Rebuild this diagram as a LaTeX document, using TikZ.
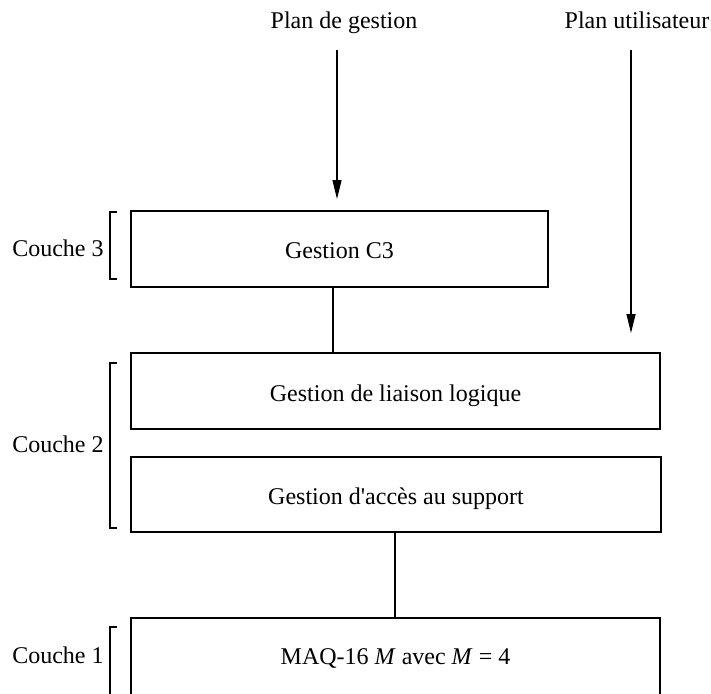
\documentclass[tikz,border=0pt]{standalone}
\usepackage{fontspec}
\setmainfont{Liberation Serif}
\usetikzlibrary{arrows.meta}

\tikzset{
  layerbox/.style={draw, line width=0.6pt, inner sep=0pt, outer sep=0pt,
    anchor=north west, font=\fontsize{12}{14}\selectfont},
  boxtext/.style={font=\fontsize{12}{14}\selectfont, inner sep=0pt},
  planlabel/.style={font=\fontsize{12}{14}\selectfont, anchor=base, inner sep=0pt},
  layerlabel/.style={font=\fontsize{12}{14}\selectfont, anchor=base east, inner sep=0pt},
  flowarrow/.style={line width=0.6pt, -{Triangle[length=9.5pt,width=4.5pt]}},
  link/.style={line width=0.6pt},
  brace/.style={line width=0.6pt}
}

\begin{document}
\begin{tikzpicture}[x=0.5pt, y=-0.5pt]
  \useasboundingbox (0,0) rectangle (711,693);
  \clip (0,0) rectangle (711,693);

  % plane labels
  \node[planlabel] (pg) at (344,28) {Plan de gestion};
  \node[planlabel] (pu) at (637,28) {Plan utilisateur};

  % layer boxes
  \node[layerbox, minimum width=208.5pt, minimum height=38pt] (c3) at (131,211) {};
  \node[boxtext] (c3t) at ([yshift=-1pt]c3.center) {Gestion C3};

  \node[layerbox, minimum width=264.5pt, minimum height=38pt] (llc) at (131,353) {};
  \node[boxtext] (llct) at ([yshift=-2.5pt]llc.center) {Gestion de liaison logique};

  \node[layerbox, minimum width=265pt, minimum height=37.5pt] (mac) at (131,457) {};
  \node[boxtext] (mact) at ([yshift=-2pt]mac.center) {Gestion d\textquotesingle accès au support};

  \node[layerbox, minimum width=264.5pt, minimum height=40pt] (phy) at (131,618) {};
  \node[boxtext] (phyt) at (phy.center) {MAQ-16 \textit{M} avec \textit{M} = 4};

  % arrows coming from the planes
  \coordinate (pgtop) at (337,50);
  \coordinate (pgend) at (337,199);
  \coordinate (putop) at (631,50);
  \coordinate (puend) at (631,333);
  \draw[flowarrow] (pgtop) -- (pgend);
  \draw[flowarrow] (putop) -- (puend);

  % links between layers
  \coordinate (linkA) at (333,0);
  \coordinate (linkB) at (395,0);
  \draw[link] (c3.south -| linkA) -- (llc.north -| linkA);
  \draw[link] (mac.south -| linkB) -- (phy.north -| linkB);

  % layer labels and brackets
  \node[layerlabel] (l3) at (104,256) {Couche 3};
  \node[layerlabel] (l2) at (104,452) {Couche 2};
  \node[layerlabel] (l1) at (104,663) {Couche 1};

  \draw[brace] (117,212) -- (110,212) -- (110,279) -- (117,279);
  \draw[brace] (117,363) -- (110,363) -- (110,528) -- (117,528);
  \draw[brace] (117,627) -- (110,627) -- (110,700);
\end{tikzpicture}
\end{document}
